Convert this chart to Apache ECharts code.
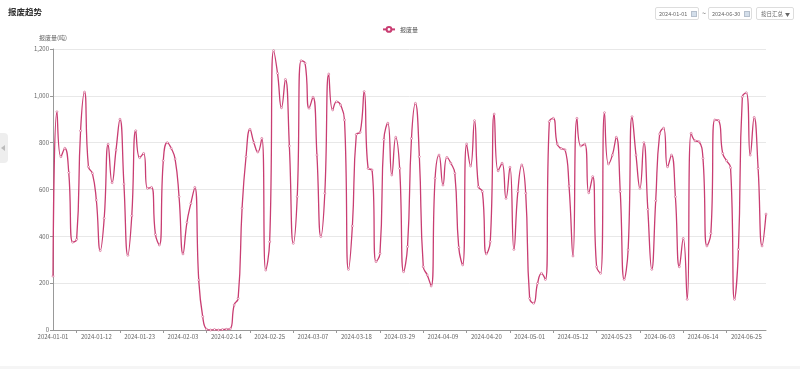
<!DOCTYPE html>
<html>
<head>
<meta charset="utf-8">
<script src="https://cdn.jsdelivr.net/npm/echarts@6/dist/echarts.min.js"></script>
<style>
html,body{margin:0;padding:0;background:#fff;}
#wrap{position:relative;width:800px;height:369px;overflow:hidden;font-family:"Noto Sans CJK SC","Noto Sans",sans-serif;}
#chart{position:absolute;left:0;top:0;width:800px;height:369px;}
.box{position:absolute;top:7px;height:13px;border:1px solid #ddd;border-radius:2px;background:#fff;font-size:5.5px;color:#666;line-height:12px;box-sizing:border-box;}
.cal{position:absolute;top:3px;width:6px;height:6px;background:#d3deea;border:1px solid #b5bfcc;box-sizing:border-box;}
.tilde{position:absolute;top:7px;font-size:7px;color:#666;line-height:13px;}
#tab{position:absolute;left:0;top:133px;width:8px;height:30px;background:#eee;border-radius:0 4px 4px 0;}
#tab span{position:absolute;left:1px;top:12px;width:0;height:0;border-top:3px solid transparent;border-bottom:3px solid transparent;border-right:4px solid #bbb;}
#bottom{position:absolute;left:0;top:366px;width:800px;height:3px;background:#f5f5f5;}
</style>
</head>
<body>
<div id="wrap">
<div id="chart"></div>
<div class="box" style="left:655px;width:44px;"><span style="position:absolute;left:3px;">2024-01-01</span><i class="cal" style="left:35px;"></i></div>
<div class="tilde" style="left:702px;">~</div>
<div class="box" style="left:708px;width:44px;"><span style="position:absolute;left:3px;">2024-06-30</span><i class="cal" style="left:35px;"></i></div>
<div class="box" style="left:756px;width:38px;"><span style="position:absolute;left:4px;">按日汇总</span><span style="position:absolute;left:28px;font-size:5px;">&#9660;</span></div>
<div id="tab"><span></span></div>
<div id="bottom"></div>
</div>
<script>
var titleText = "报废趋势";
var seriesName = "报废量";
var yAxisName = "报废量(吨)";
var startDate = "2024-01-01";
var dayCount = 182;
var yTicks = [0, 200, 400, 600, 800, 1000, 1200];
var values = [
230,932,740,776,672,375,387,851,1016,697,
669,555,339,477,793,629,769,900,623,319,
488,851,736,754,605,609,408,363,723,800,
776,730,569,325,460,541,609,213,57,3,
0,2,0,2,3,5,107,135,520,740,
857,800,760,818,256,377,1193,1096,949,1070,
786,370,569,1150,1139,947,994,747,399,584,
1093,940,975,961,897,259,444,835,845,1018,
690,683,292,327,814,883,662,823,690,249,
356,818,968,740,270,235,188,648,747,619,
737,712,669,353,278,794,700,894,612,591,
325,377,922,680,712,562,695,344,591,705,
584,135,114,199,242,216,890,904,794,775,
769,615,316,904,786,794,586,655,270,242,
928,709,747,823,591,216,342,911,747,605,
800,515,259,552,837,862,697,747,569,270,
391,131,840,808,804,733,359,413,897,894,
754,723,693,131,344,996,1013,747,908,690,
359,495
];
var categories = [];
(function(){
  var d = new Date(startDate + "T00:00:00Z");
  for (var i = 0; i < dayCount; i++) {
    var t = new Date(d.getTime() + i * 86400000);
    var m = t.getUTCMonth() + 1, dd = t.getUTCDate();
    categories.push(t.getUTCFullYear() + "-" + (m < 10 ? "0" : "") + m + "-" + (dd < 10 ? "0" : "") + dd);
  }
})();

var lineColor = '#c93d72';
var chart = echarts.init(document.getElementById('chart'), null, {renderer: 'canvas'});
var font = '"Noto Sans CJK SC","Noto Sans",sans-serif';
chart.setOption({
  backgroundColor: '#fff',
  animation: false,
  textStyle: {fontFamily: font},
  color: [lineColor],
  title: {
    text: titleText, left: 8, top: 8, padding: 0,
    textStyle: {fontSize: 8.5, fontWeight: 'bold', color: '#333', fontFamily: font}
  },
  legend: {
    data: [seriesName], top: 21, left: 'center',
    itemWidth: 12, itemHeight: 6, itemGap: 4,
    textStyle: {fontSize: 6, color: '#555', fontFamily: font}
  },
  grid: {left: 53, right: 34, top: 49, bottom: 39, containLabel: false},
  xAxis: {
    type: 'category', data: categories, boundaryGap: false,
    axisLine: {lineStyle: {color: '#999', width: 1}},
    axisTick: {show: true, length: 3, interval: function (i) { return i % 11 === 6; }, lineStyle: {color: '#999'}},
    axisLabel: {interval: 10, fontSize: 6, color: '#666', margin: 4, fontFamily: font},
    splitLine: {show: false}
  },
  yAxis: {
    type: 'value', min: yTicks[0], max: yTicks[yTicks.length - 1], interval: yTicks[1] - yTicks[0],
    name: yAxisName, nameGap: 8,
    nameTextStyle: {fontSize: 6, color: '#666', align: 'center', fontFamily: font},
    axisLine: {show: true, lineStyle: {color: '#999'}},
    axisTick: {show: true, length: 3, lineStyle: {color: '#999'}},
    axisLabel: {fontSize: 6, color: '#666', margin: 4, fontFamily: font,
      formatter: function (v) { return v.toLocaleString('en-US'); }},
    splitLine: {lineStyle: {color: '#e8e8e8'}}
  },
  series: [{
    name: seriesName, type: 'line', data: values, smooth: true,
    symbol: 'circle', symbolSize: 2, showSymbol: true,
    lineStyle: {color: lineColor, width: 1.3},
    itemStyle: {color: '#fff', borderColor: lineColor, borderWidth: 0.5}
  }]
});
</script>
</body>
</html>
